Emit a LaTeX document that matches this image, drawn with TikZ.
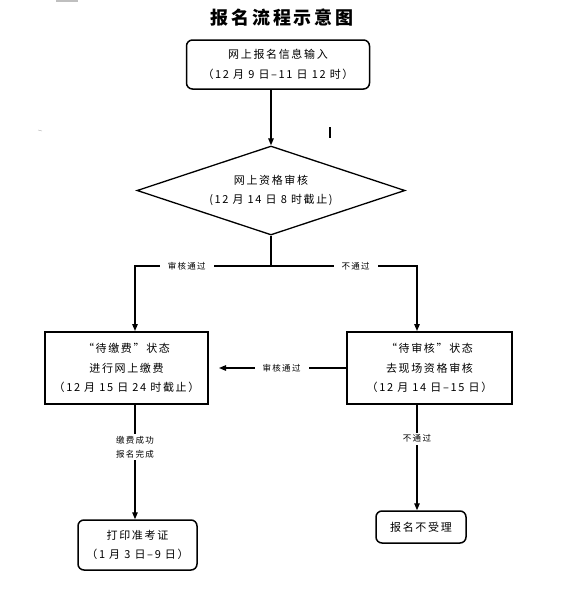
\documentclass[tikz,border=0pt]{standalone}
\usepackage{fontspec}
\newfontfamily\cjk{Noto Sans CJK SC}[LetterSpace=15]
\usepackage{tikz}
\usetikzlibrary{arrows.meta, shapes.geometric, positioning}
\tikzset{>={Triangle[length=7pt,width=5.5pt]}}

\begin{document}
\begin{tikzpicture}[x=1pt,y=-1pt,
    boxfont/.style={font=\cjk\fontsize{11}{19.5}\selectfont},
    roundbox/.style={draw,rounded corners=6pt,line width=1.5pt,align=center,inner sep=0pt,boxfont},
    statebox/.style={draw,line width=2pt,align=center,inner sep=0pt,minimum height=72pt,boxfont},
    lbl/.style={fill=white,inner xsep=8pt,inner ysep=2pt,align=center,font=\cjk\fontsize{8.5}{14}\selectfont},
    conn/.style={line width=1.2pt}]
    \useasboundingbox (0,0) rectangle (584,590);
    % stray marks
    \fill[gray!50] (56,0) rectangle (78,2);
    \draw[line width=1.8pt] (330,127) -- (330,138);
    \draw[gray!60] (38,130) -- (42,131);

    \node[font=\cjk\bfseries\fontsize{18}{18}\selectfont] (title) at (282,18) {报名流程示意图};
    \node[roundbox,minimum width=183pt,minimum height=49pt] (online) at (278,64.5) {网上报名信息输入\\（12 月 9 日–11 日 12 时）};
    \node[draw,diamond,aspect=3,line width=1.3pt,minimum width=268pt,minimum height=89pt,inner sep=0pt,align=center,boxfont] (check) at (271,190.5) {网上资格审核\\(12 月 14 日 8 时截止)};
    \node[statebox,minimum width=163pt] (pay) at (126.5,368) {“待缴费”状态\\进行网上缴费\\（12 月 15 日 24 时截止）};
    \node[statebox,minimum width=165pt] (review) at (429.5,368) {“待审核”状态\\去现场资格审核\\（12 月 14 日–15 日）};
    \node[roundbox,minimum width=119pt,minimum height=50pt] (print) at (137.5,545) {打印准考证\\（1 月 3 日–9 日）};
    \node[roundbox,minimum width=90pt,minimum height=32pt] (reject) at (421,527) {报名不受理};

    \coordinate (split) at (271,266);
    \coordinate (lx) at (135,266);
    \coordinate (rx) at (417,266);

    \draw[conn,->] (check.north |- online.south) -- (check.north);
    \draw[conn] (check.south) -- (split);
    \draw[conn,->] (split) -- node[lbl,pos=0.62] {审核通过} (lx) -- (lx |- pay.north);
    \draw[conn,->] (split) -- node[lbl,pos=0.58] {不通过} (rx) -- (rx |- review.north);
    \draw[conn,->,shorten >=10pt] (review.west) -- node[lbl,pos=0.47] {审核通过} (pay.east);
    \draw[conn,->] (lx |- pay.south) -- node[lbl,pos=0.37] {缴费成功\\报名完成} (lx |- print.north);
    \draw[conn,->] (rx |- review.south) -- node[lbl,pos=0.32] {不通过} (rx |- reject.north);
\end{tikzpicture}
\end{document}
